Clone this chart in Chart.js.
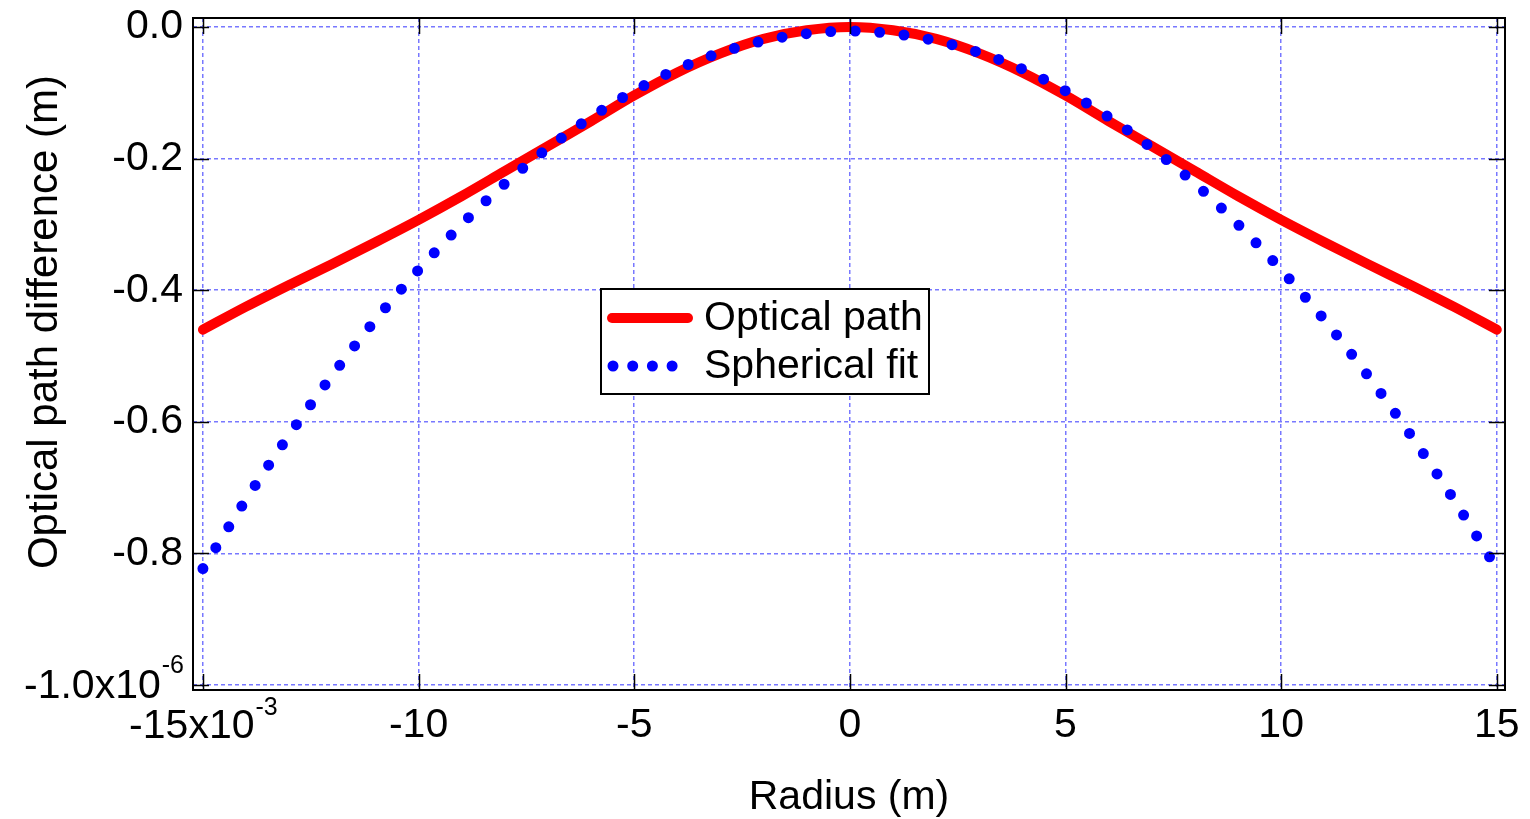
<!DOCTYPE html>
<html>
<head>
<meta charset="utf-8">
<script src="https://cdn.jsdelivr.net/npm/chart.js@4.4.1/dist/chart.umd.min.js"></script>
<style>
  html, body { margin: 0; padding: 0; background: #fff; }
</style>
</head>
<body>
<canvas id="chart" width="1530" height="819"></canvas>
<script>
// radius in units of 1e-3 m, path difference in units of 1e-6 m
const radius = [-15, -14, -13, -12, -11, -10, -9, -8, -7, -6, -5, -4, -3, -2, -1, 0,
  1, 2, 3, 4, 5, 6, 7, 8, 9, 10, 11, 12, 13, 14, 15];
const opticalPath = [-0.460, -0.425, -0.392, -0.360, -0.327, -0.293, -0.257, -0.219, -0.181, -0.143,
  -0.104, -0.069, -0.040, -0.018, -0.005, 0.000, -0.005, -0.018, -0.040, -0.069, -0.104,
  -0.143, -0.181, -0.219, -0.257, -0.293, -0.327, -0.360, -0.392, -0.425, -0.460];
const sphericalFit = [-0.823, -0.718, -0.620, -0.529, -0.445, -0.369, -0.300, -0.238, -0.184, -0.137,
  -0.097, -0.064, -0.039, -0.021, -0.010, -0.006, -0.010, -0.021, -0.039, -0.064, -0.097,
  -0.137, -0.184, -0.238, -0.300, -0.369, -0.445, -0.529, -0.620, -0.718, -0.823];

const xTicks = [-15, -10, -5, 0, 5, 10, 15];
const xTickLabels = ['-15x10', '-10', '-5', '0', '5', '10', '15'];
const yTicks = [0, -0.2, -0.4, -0.6, -0.8, -1.0];
const yTickLabels = ['0.0', '-0.2', '-0.4', '-0.6', '-0.8', '-1.0x10'];
const xExponent = '-3';
const yExponent = '-6';

const FONT = '"Liberation Sans", Arial, sans-serif';
const gridColor = '#7878ff';

const matlabFrame = {
  id: 'matlabFrame',
  afterDraw(chart) {
    const { ctx, chartArea: a, scales: { x, y } } = chart;
    ctx.save();

    // box + inner ticks
    ctx.strokeStyle = '#000';
    ctx.lineWidth = 2;
    ctx.strokeRect(a.left, a.top, a.right - a.left, a.bottom - a.top);
    const tl = 16;
    ctx.lineWidth = 1.5;
    ctx.beginPath();
    xTicks.forEach(v => {
      const px = Math.round(x.getPixelForValue(v)) + 0.5;
      ctx.moveTo(px, a.bottom); ctx.lineTo(px, a.bottom - tl);
      ctx.moveTo(px, a.top); ctx.lineTo(px, a.top + tl);
    });
    yTicks.forEach(v => {
      const py = Math.round(y.getPixelForValue(v)) + 0.5;
      ctx.moveTo(a.left, py); ctx.lineTo(a.left + tl, py);
      ctx.moveTo(a.right, py); ctx.lineTo(a.right - tl, py);
    });
    ctx.stroke();

    // tick labels carrying the exponent
    ctx.fillStyle = '#000';
    ctx.textBaseline = 'alphabetic';
    ctx.textAlign = 'left';
    const mainFont = '41px ' + FONT, supFont = '25px ' + FONT;

    ctx.font = mainFont;
    let w1 = ctx.measureText(xTickLabels[0]).width;
    ctx.font = supFont;
    let w2 = ctx.measureText(xExponent).width;
    let px = x.getPixelForValue(xTicks[0]);
    let sx = px - (w1 + w2) / 2;
    let base = a.bottom + 48;
    ctx.font = mainFont; ctx.fillText(xTickLabels[0], sx, base);
    ctx.font = supFont; ctx.fillText(xExponent, sx + w1 + 1, base - 23);

    ctx.font = mainFont;
    w1 = ctx.measureText(yTickLabels[5]).width;
    ctx.font = supFont;
    w2 = ctx.measureText(yExponent).width;
    let py = y.getPixelForValue(yTicks[5]);
    sx = a.left - 10 - (w1 + w2);
    base = py + 13;
    ctx.font = mainFont; ctx.fillText(yTickLabels[5], sx, base);
    ctx.font = supFont; ctx.fillText(yExponent, sx + w1 + 1, base - 25);

    // y axis title
    ctx.save();
    ctx.translate(45, 322);
    ctx.rotate(-Math.PI / 2);
    ctx.textAlign = 'center';
    ctx.textBaseline = 'middle';
    ctx.font = '42px ' + FONT;
    ctx.fillText('Optical path difference (m)', 0, 0);
    ctx.restore();

    // legend
    const lx = a.left + 408, ly = a.top + 271, lw = 328, lh = 105;
    ctx.fillStyle = '#fff';
    ctx.fillRect(lx, ly, lw, lh);
    ctx.strokeStyle = '#000';
    ctx.lineWidth = 2;
    ctx.strokeRect(lx, ly, lw, lh);
    const ds = chart.data.datasets;
    const rows = [ds[1], ds[0]];
    rows.forEach((d, i) => {
      const ry = ly + 29 + i * 48;
      ctx.save();
      ctx.strokeStyle = d.borderColor;
      ctx.lineWidth = d.borderWidth;
      ctx.lineCap = 'round';
      ctx.beginPath();
      if (d.borderDash && d.borderDash.length) {
        ctx.setLineDash([0, 19.7]);
        ctx.moveTo(lx + 12, ry); ctx.lineTo(lx + 72, ry);
      } else {
        ctx.moveTo(lx + 11, ry); ctx.lineTo(lx + 87, ry);
      }
      ctx.stroke();
      ctx.restore();
      ctx.fillStyle = '#000';
      ctx.font = '41px ' + FONT;
      ctx.textAlign = 'left';
      ctx.textBaseline = 'middle';
      ctx.fillText(d.label, lx + 103, ry + 1);
    });

    ctx.restore();
  }
};

new Chart(document.getElementById('chart'), {
  type: 'line',
  data: {
    datasets: [{
      label: 'Spherical fit',
      data: radius.map((r, i) => ({ x: r, y: sphericalFit[i] })),
      borderColor: '#0000ff',
      borderWidth: 11,
      borderDash: [0, 24.5],
      borderCapStyle: 'round',
      pointRadius: 0,
      cubicInterpolationMode: 'monotone',
      fill: false,
      order: 0
    }, {
      label: 'Optical path',
      data: radius.map((r, i) => ({ x: r, y: opticalPath[i] })),
      borderColor: '#ff0000',
      borderWidth: 10,
      borderCapStyle: 'round',
      pointRadius: 0,
      cubicInterpolationMode: 'monotone',
      fill: false,
      order: 1
    }]
  },
  options: {
    responsive: false,
    animation: false,
    devicePixelRatio: 1,
    layout: { padding: { top: 18, right: 25, left: 0, bottom: 0 } },
    plugins: { legend: { display: false }, tooltip: { enabled: false } },
    scales: {
      x: {
        type: 'linear',
        min: -15.23,
        max: 15.19,
        afterBuildTicks: s => { s.ticks = xTicks.map(v => ({ value: v })); },
        afterFit: s => { s.height = 129; s.paddingLeft = 0; s.paddingRight = 0; },
        grid: { color: gridColor, lineWidth: 1.5, drawTicks: false },
        border: { display: false, dash: [4, 3] },
        ticks: {
          color: '#000',
          font: { family: FONT, size: 41 },
          padding: 11,
          maxRotation: 0,
          autoSkip: false,
          callback: v => { const i = xTicks.indexOf(v); return i <= 0 ? '' : xTickLabels[i]; }
        },
        title: {
          display: true,
          text: 'Radius (m)',
          color: '#000',
          font: { family: FONT, size: 41, lineHeight: 1 },
          padding: { top: 0, bottom: 1 }
        }
      },
      y: {
        type: 'linear',
        min: -1.0076,
        max: 0.0137,
        afterBuildTicks: s => { s.ticks = yTicks.map(v => ({ value: v })); },
        afterFit: s => { s.width = 193; s.paddingTop = 0; s.paddingBottom = 0; },
        grid: { color: gridColor, lineWidth: 1.5, drawTicks: false },
        border: { display: false, dash: [4, 3] },
        ticks: {
          color: '#000',
          font: { family: FONT, size: 41 },
          padding: 10,
          autoSkip: false,
          callback: v => { const i = yTicks.indexOf(v); return (i < 0 || i === 5) ? '' : yTickLabels[i]; }
        }
      }
    }
  },
  plugins: [matlabFrame]
});
</script>
</body>
</html>
